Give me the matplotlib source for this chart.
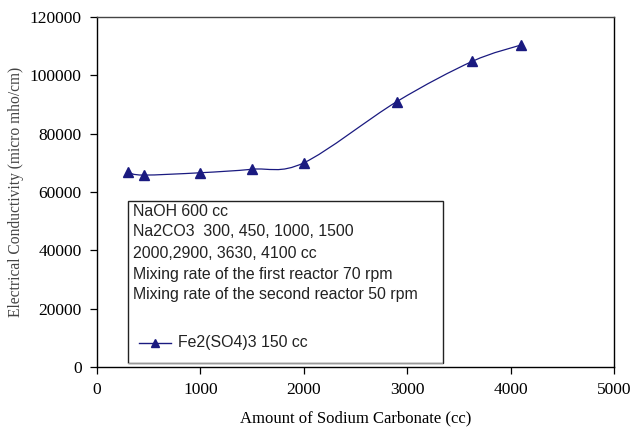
import matplotlib

matplotlib.use("Agg")

import matplotlib.pyplot as plt
from matplotlib.path import Path
from matplotlib.patches import PathPatch, Rectangle
from matplotlib.lines import Line2D

# data
sodium_carbonate = [300, 450, 1000, 1500, 2000, 2900, 3630, 4100]
conductivity = [66700, 65800, 66600, 67800, 70000, 91000, 104800, 110400]
series_label = "Fe2(SO4)3 150 cc"
note_lines = [
    "NaOH 600 cc",
    "Na2CO3  300, 450, 1000, 1500",
    "2000,2900, 3630, 4100 cc",
    "Mixing rate of the first reactor 70 rpm",
    "Mixing rate of the second reactor 50 rpm",
]

NAVY = "#1a1a80"
SERIF = "Liberation Serif"
SANS = "Liberation Sans"


def smooth_path(xs, ys):
    # excel style smoothed line: cubic bezier segments through every point
    pts = list(zip(xs, ys))
    verts = [pts[0]]
    codes = [Path.MOVETO]
    n = len(pts)
    for i in range(n - 1):
        p0 = pts[i - 1] if i > 0 else pts[i]
        p1 = pts[i]
        p2 = pts[i + 1]
        p3 = pts[i + 2] if i + 2 < n else pts[i + 1]
        c1 = (p1[0] + (p2[0] - p0[0]) / 6, p1[1] + (p2[1] - p0[1]) / 6)
        c2 = (p2[0] - (p3[0] - p1[0]) / 6, p2[1] - (p3[1] - p1[1]) / 6)
        verts += [c1, c2, p2]
        codes += [Path.CURVE4] * 3
    return Path(verts, codes)


fig = plt.figure(figsize=(6.33, 4.34), dpi=100)
ax = fig.add_axes([97 / 633, 67 / 434, 517 / 633, 350 / 434])

ax.add_patch(PathPatch(smooth_path(sodium_carbonate, conductivity),
                       facecolor="none", edgecolor=NAVY, lw=0.9, zorder=3))
ax.plot(sodium_carbonate, conductivity, ls="none", marker="^", ms=6.5,
        color=NAVY, zorder=4)

ax.set_xlim(0, 5000)
ax.set_ylim(0, 120000)
ax.set_xticks(range(0, 5001, 1000))
ax.set_yticks(range(0, 120001, 20000))
ax.tick_params(direction="out", length=5, width=0.9, labelsize=12.5, pad=6)
for lab in ax.get_xticklabels() + ax.get_yticklabels():
    lab.set_fontfamily(SERIF)
for sp in ax.spines.values():
    sp.set_linewidth(1.0)
ax.spines["top"].set_color("#444444")

ax.set_xlabel("Amount of Sodium Carbonate (cc)", fontfamily=SERIF,
              fontsize=12, labelpad=9)
ax.set_ylabel("Electrical Conductivity (micro mho/cm)", fontfamily=SERIF,
              fontsize=11.2, labelpad=4, color="#444444")

# legend / notes box
W, H = 517.0, 350.0
ax.add_patch(Rectangle(((128 - 97) / W, 4 / H), (443 - 128) / W, (363 - 201) / H,
                       transform=ax.transAxes, facecolor="white",
                       edgecolor="#222222", lw=1.0, zorder=5))
ax.add_patch(Rectangle(((128 - 97) / W, 3 / H), (443 - 128) / W, 1.5 / H,
                       transform=ax.transAxes, facecolor="#999999",
                       edgecolor="none", zorder=5))
for i, line in enumerate(note_lines):
    ax.text((133 - 97) / W, (367 - (211 + 21 * i)) / H, line,
            transform=ax.transAxes, fontfamily=SANS, fontsize=11.4,
            va="center", ha="left", color="#222222", zorder=6)
ax.add_line(Line2D([(139 - 97) / W, (171 - 97) / W], [(367 - 343) / H] * 2,
                   transform=ax.transAxes, color=NAVY, lw=1.0, zorder=6))
ax.add_line(Line2D([(155 - 97) / W], [(367 - 343) / H], transform=ax.transAxes,
                   marker="^", ms=6, color=NAVY, zorder=7))
ax.text((178 - 97) / W, (367 - 343) / H, series_label, transform=ax.transAxes,
        fontfamily=SANS, fontsize=11.4, va="center", ha="left",
        color="#222222", zorder=6)

fig.savefig("out.png", dpi=100)
